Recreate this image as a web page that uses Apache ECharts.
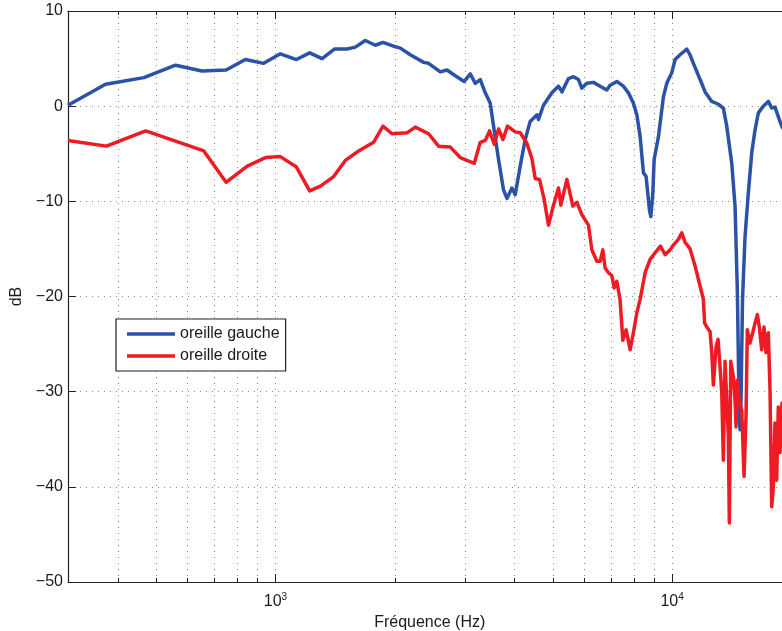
<!DOCTYPE html>
<html>
<head>
<meta charset="utf-8">
<script src="https://cdn.jsdelivr.net/npm/echarts@6/dist/echarts.min.js"></script>
<style>
  html, body { margin: 0; padding: 0; background: #fff; }
  #chart { width: 782px; height: 631px; }
</style>
</head>
<body>
<div id="chart"></div>
<script type="text/javascript">
// oreille gauche (bleu)
var gaucheFreq = [300, 373, 466, 560, 653, 751, 840, 934, 1029, 1130, 1220, 1311, 1408, 1516, 1590, 1685, 1786, 1867, 1986, 2065,
  2188, 2364, 2433, 2604, 2707, 2840, 2993, 3099, 3190, 3284, 3381, 3480, 3548, 3652, 3759, 3834, 3947, 4023, 4141, 4263,
  4388, 4563, 4605, 4740, 4977, 5171, 5275, 5480, 5641, 5808, 5922, 6097, 6336, 6586, 6847, 6979, 7256, 7539, 7761, 7990,
  8150, 8307, 8468, 8601, 8767, 8839, 8943, 9011, 9238, 9510, 9696, 9982, 10176, 10476, 10890, 11100, 11317, 11765, 12111, 12589,
  13080, 13465, 13735, 14139, 14412, 14604, 14773, 14835, 14920, 15050, 15272, 15567, 15878, 16185, 16498, 16982, 17482, 17828, 18172, 18526,
  18892, 19824];
var gaucheDb = [0.1, 2.3, 3.0, 4.3, 3.7, 3.8, 4.9, 4.5, 5.5, 4.9, 5.6, 5.0, 6.0, 6.0, 6.2, 6.9, 6.4, 6.7, 6.3, 6.1,
  5.4, 4.6, 4.5, 3.6, 3.8, 3.2, 2.6, 3.4, 2.4, 2.8, 1.4, 0.3, -2.1, -5.6, -8.8, -9.7, -8.6, -9.3, -6.3, -3.5,
  -1.6, -0.9, -1.4, 0.1, 1.4, 2.1, 1.5, 2.9, 3.1, 2.8, 1.9, 2.4, 2.5, 2.1, 1.7, 2.2, 2.6, 2.1, 1.4, 0.3,
  -0.9, -3.2, -7.0, -7.4, -10.9, -11.6, -9.1, -5.6, -3.2, 1.0, 2.4, 3.5, 4.9, 5.4, 6.0, 5.4, 4.5, 2.8, 1.5, 0.5,
  0.2, -0.2, -2.1, -6.0, -10.5, -19.3, -33.0, -34.0, -30.9, -20.3, -13.7, -9.1, -4.9, -2.5, -0.7, 0.0, 0.5, -0.2, -0.1, -1.1,
  -2.1, -3.5];

// oreille droite (rouge)
var droiteFreq = [300, 375, 471, 660, 751, 849, 944, 1029, 1130, 1220, 1299, 1402, 1501, 1621, 1768, 1867, 1968, 2147, 2252, 2433,
  2578, 2760, 2924, 3040, 3172, 3284, 3381, 3466, 3561, 3652, 3747, 3847, 4023, 4141, 4305, 4432, 4518, 4631, 4760, 4880,
  5024, 5171, 5243, 5430, 5622, 5755, 5922, 6155, 6277, 6462, 6586, 6690, 6780, 6913, 7049, 7144, 7256, 7396, 7513, 7659,
  7839, 7990, 8150, 8307, 8551, 8803, 9063, 9344, 9603, 9886, 10076, 10372, 10578, 10783, 11100, 11427, 11765, 11992, 12078, 12232,
  12468, 12589, 12706, 12907, 13059, 13211, 13343, 13465, 13599, 13735, 13862, 13942, 14057, 14270, 14412, 14494, 14604, 14773, 14982, 15184,
  15360, 15477, 15720, 15969, 16185, 16403, 16593, 16824, 17050, 17251, 17482, 17656, 17828, 17997, 18172, 18353, 18526, 18707, 18927, 19824];
var droiteDb = [-3.6, -4.2, -2.6, -4.7, -8.0, -6.3, -5.4, -5.3, -6.4, -8.9, -8.4, -7.4, -5.7, -4.7, -3.8, -2.1, -2.9, -2.8, -2.2, -2.9,
  -4.2, -4.3, -5.4, -5.7, -6.0, -3.8, -3.6, -2.6, -4.0, -2.4, -3.5, -2.1, -2.7, -2.8, -3.9, -5.5, -7.6, -7.7, -9.8, -12.5,
  -10.4, -8.6, -10.4, -7.7, -10.5, -10.1, -11.4, -12.5, -15.1, -16.3, -16.3, -15.1, -17.0, -17.5, -17.8, -19.1, -18.4, -20.4, -24.6, -23.5,
  -25.6, -23.8, -21.7, -20.3, -17.5, -16.1, -15.4, -14.7, -15.6, -15.1, -14.6, -14.0, -13.3, -14.3, -15.0, -16.8, -18.9, -20.3, -22.8, -23.2,
  -23.7, -25.9, -29.3, -25.3, -24.5, -27.4, -30.1, -37.2, -26.8, -30.9, -34.7, -43.8, -26.8, -28.4, -30.9, -33.7, -28.8, -31.2, -31.9, -38.9,
  -32.6, -23.5, -24.9, -23.8, -22.8, -21.9, -23.2, -25.6, -23.2, -25.9, -23.8, -29.8, -42.1, -40.0, -33.3, -39.3, -31.6, -36.4, -31.2, -33.0];

var minorFreqs = [400, 500, 600, 700, 800, 900, 2000, 3000, 4000, 5000, 6000, 7000, 8000, 9000];
var seriesNames = ['oreille gauche', 'oreille droite'];

var FONT = "'Liberation Sans', Arial, Helvetica, sans-serif";
var TXT = '#1a1a1a';
var GRID = '#8a8a8a';

function zip(xs, ys) {
  var out = [];
  for (var i = 0; i < xs.length; i++) out.push([xs[i], ys[i]]);
  return out;
}

function crisp(v) { return Math.round(v) + 0.5; }

var chart = echarts.init(document.getElementById('chart'));

var option = {
  backgroundColor: '#fff',
  animation: false,
  textStyle: { fontFamily: FONT },
  grid: { left: 68, top: 11, right: -9.5, bottom: 49, containLabel: false, outerBoundsMode: 'none' },
  legend: {
    data: [
      { name: seriesNames[0], icon: 'rect' },
      { name: seriesNames[1], icon: 'rect' }
    ],
    orient: 'vertical',
    left: 116,
    top: 319,
    itemWidth: 48,
    itemHeight: 3.5,
    itemGap: 6,
    padding: [7, 6, 7, 11],
    backgroundColor: '#fff',
    borderColor: '#222',
    borderWidth: 1.2,
    textStyle: { fontFamily: FONT, fontSize: 16, color: TXT }
  },
  xAxis: [
    {
      type: 'log',
      logBase: 10,
      min: 300,
      max: 20000,
      position: 'bottom',
      name: 'Fréquence (Hz)',
      nameLocation: 'middle',
      nameGap: 31,
      nameTextStyle: { fontFamily: FONT, fontSize: 16, color: TXT },
      axisLine: { show: true, onZero: false, lineStyle: { color: '#222', width: 1.2 } },
      axisTick: { show: true, inside: true, length: 8, lineStyle: { color: '#222' } },
      axisLabel: {
        margin: 10,
        color: TXT,
        formatter: function (v) {
          var e = Math.round(Math.log10(v));
          if (Math.abs(Math.pow(10, e) - v) > 1e-6 * v) return '';
          return '{b|10}{s|' + e + '}';
        },
        rich: {
          b: { fontFamily: FONT, fontSize: 16, lineHeight: 20, color: TXT },
          s: { fontFamily: FONT, fontSize: 10, lineHeight: 20, verticalAlign: 'top', color: TXT }
        }
      },
      splitLine: { show: true, lineStyle: { color: GRID, width: 1, type: [1, 5] } }
    },
    {
      type: 'log',
      logBase: 10,
      min: 300,
      max: 20000,
      position: 'top',
      axisLine: { show: true, onZero: false, lineStyle: { color: '#222', width: 1.2 } },
      axisTick: { show: true, inside: true, length: 8, lineStyle: { color: '#222' } },
      axisLabel: { show: false },
      splitLine: { show: false }
    }
  ],
  yAxis: {
    type: 'value',
    min: -50,
    max: 10,
    interval: 10,
    name: 'dB',
    nameLocation: 'middle',
    nameGap: 37,
    nameTextStyle: { fontFamily: FONT, fontSize: 16, color: TXT },
    axisLine: { show: true, lineStyle: { color: '#222', width: 1.2 } },
    axisTick: { show: true, inside: true, length: 8, lineStyle: { color: '#222' } },
    axisLabel: {
      margin: 5,
      fontFamily: FONT,
      fontSize: 16,
      color: TXT,
      formatter: function (v) { return v < 0 ? '\u2212' + Math.abs(v) : String(v); }
    },
    splitLine: { show: true, lineStyle: { color: GRID, width: 1, type: [1, 5] } }
  },
  series: [
    {
      // grille secondaire + petites graduations
      type: 'custom',
      xAxisIndex: 0,
      silent: true,
      z: 1,
      data: minorFreqs.map(function (f) { return [f, 0]; }),
      encode: { x: 0, y: 1 },
      renderItem: function (params, api) {
        var f = api.value(0);
        var bot = api.coord([f, -50]);
        var top = api.coord([f, 10]);
        var x = crisp(bot[0]);
        return {
          type: 'group',
          children: [
            { type: 'line', shape: { x1: x, y1: bot[1], x2: x, y2: top[1] }, style: { stroke: GRID, lineWidth: 1, lineDash: [1, 5] } },
            { type: 'line', shape: { x1: x, y1: bot[1], x2: x, y2: bot[1] - 4 }, style: { stroke: '#222', lineWidth: 1 } },
            { type: 'line', shape: { x1: x, y1: top[1], x2: x, y2: top[1] + 4 }, style: { stroke: '#222', lineWidth: 1 } }
          ]
        };
      }
    },
    {
      name: seriesNames[0],
      type: 'line',
      xAxisIndex: 0,
      data: zip(gaucheFreq, gaucheDb),
      showSymbol: false,
      symbol: 'none',
      z: 3,
      color: '#2a52a6',
      lineStyle: { color: '#2a52a6', width: 3.5, join: 'round' }
    },
    {
      name: seriesNames[1],
      type: 'line',
      xAxisIndex: 0,
      data: zip(droiteFreq, droiteDb),
      showSymbol: false,
      symbol: 'none',
      z: 4,
      color: '#ed1c24',
      lineStyle: { color: '#ed1c24', width: 3.5, join: 'round' }
    }
  ]
};

chart.setOption(option);
</script>
</body>
</html>
